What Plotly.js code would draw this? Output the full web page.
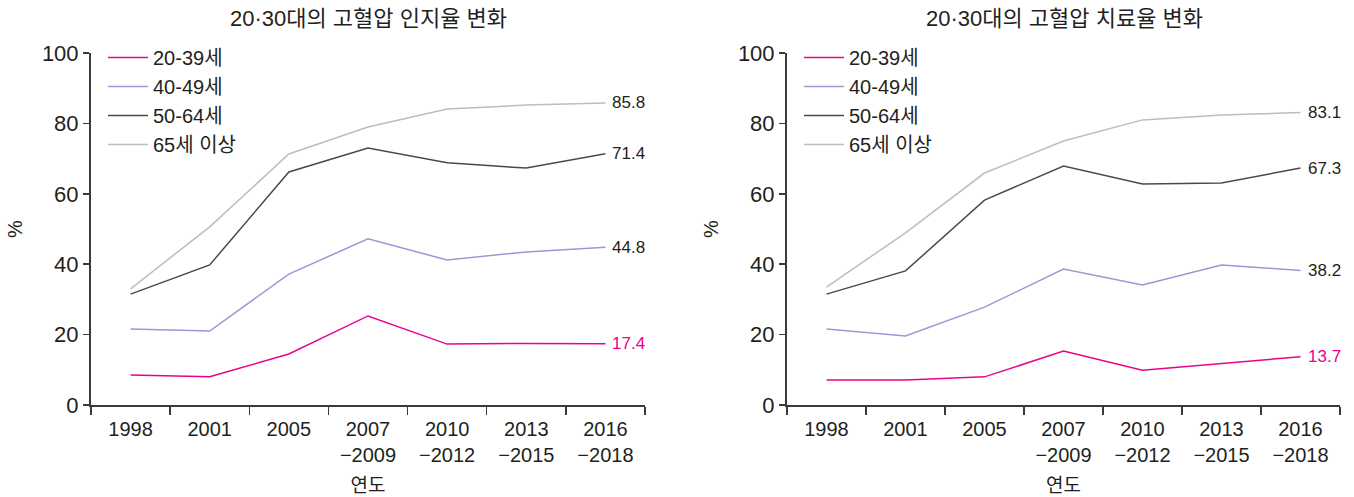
<!DOCTYPE html>
<html>
<head>
<meta charset="utf-8">
<script src="https://cdn.plot.ly/plotly-3.0.1.min.js"></script>
<style>
  body { margin: 0; background: #fff; }
  #chart { width: 1354px; height: 497px; }
</style>
</head>
<body>
<div id="chart"></div>
<script>
// categories (x axis)
const years = ["1998", "2001", "2005", "2007<br>\u22122009", "2010<br>\u22122012", "2013<br>\u22122015", "2016<br>\u22122018"];
const groups = ["20-39세", "40-49세", "50-64세", "65세 이상"];

// 인지율 (awareness), %
const aware2039 = [8.5, 8.0, 14.5, 25.3, 17.3, 17.5, 17.4];
const aware4049 = [21.6, 21.0, 37.2, 47.2, 41.2, 43.5, 44.8];
const aware5064 = [31.5, 39.8, 66.2, 73.0, 68.8, 67.3, 71.4];
const aware65 = [33.0, 50.6, 71.3, 79.0, 84.1, 85.2, 85.8];

// 치료율 (treatment), %
const treat2039 = [7.1, 7.1, 8.0, 15.3, 9.9, 11.9, 13.7];
const treat4049 = [21.6, 19.6, 27.8, 38.6, 34.1, 39.8, 38.2];
const treat5064 = [31.5, 38.1, 58.2, 67.9, 62.8, 63.1, 67.3];
const treat65 = [33.5, 48.9, 65.9, 75.0, 81.0, 82.4, 83.1];

const colors = ["#ec008c", "#9c97d6", "#4a4a4a", "#bdbdbd"];
const labelColors = ["#ec008c", "#231f20", "#231f20", "#231f20"];
const txt = "#231f20";
const font = "'Liberation Sans', Arial, 'Noto Sans CJK KR', sans-serif";
const krFont = "'Noto Sans CJK KR', sans-serif";

const awareSeries = [aware2039, aware4049, aware5064, aware65];
const treatSeries = [treat2039, treat4049, treat5064, treat65];

const traces = [];
const annotations = [];

function addPanel(series, xa, ya, legendId) {
    series.forEach((vals, i) => {
        traces.push({
            x: years, y: vals,
            xaxis: xa, yaxis: ya,
            type: "scatter", mode: "lines",
            name: groups[i],
            legend: legendId,
            line: { color: colors[i], width: 1.5 },
            hoverinfo: "x+y"
        });
        // value label at the end of each line
        const last = vals.length - 1;
        annotations.push({
            xref: xa, yref: ya,
            x: years[last], y: vals[last],
            text: vals[last].toFixed(1),
            showarrow: false,
            xanchor: "left", xshift: 5,
            font: { family: font, size: 17, color: labelColors[i] }
        });
    });
}

addPanel(awareSeries, "x", "y", "legend");
addPanel(treatSeries, "x2", "y2", "legend2");

function xAxis(domain, anchor) {
    return {
        domain: domain, anchor: anchor,
        type: "category", range: [-0.5, 6.5],
        showgrid: false, zeroline: false,
        showline: true, linecolor: "#3a3a3a", linewidth: 2,
        ticks: "outside", tickson: "boundaries", ticklen: 8, tickcolor: "#3a3a3a", tickwidth: 1.5,
        ticklabelstandoff: 5,
        tickfont: { family: font, size: 20, color: txt },
        title: { text: "연도", font: { family: krFont, size: 19, color: txt }, standoff: 14 },
        automargin: false, fixedrange: true
    };
}

function yAxis(domain, anchor) {
    return {
        domain: domain, anchor: anchor,
        range: [0, 100], tickvals: [0, 20, 40, 60, 80, 100],
        showgrid: false, zeroline: false,
        showline: true, linecolor: "#3a3a3a", linewidth: 2,
        ticks: "outside", ticklen: 6, tickcolor: "#3a3a3a", tickwidth: 1.5,
        tickfont: { family: font, size: 22, color: txt },
        title: { text: "%", font: { family: font, size: 20, color: txt }, standoff: 14 },
        automargin: false, fixedrange: true
    };
}

const yDom = [1 - 405 / 497, 1 - 53 / 497];

const legendStyle = (x) => ({
    x: x, y: 1 - 38 / 497, xanchor: "left", yanchor: "top",
    bgcolor: "rgba(0,0,0,0)",
    font: { family: font, size: 20, color: txt },
    itemwidth: 40, tracegroupgap: 0
});

const layout = {
    width: 1354, height: 497,
    margin: { l: 0, r: 0, t: 0, b: 0 },
    paper_bgcolor: "#fff", plot_bgcolor: "#fff",
    showlegend: true,
    xaxis: xAxis([91 / 1354, 645 / 1354], "y"),
    yaxis: yAxis(yDom, "x"),
    xaxis2: xAxis([787 / 1354, 1340 / 1354], "y2"),
    yaxis2: yAxis(yDom, "x2"),
    legend: legendStyle(103 / 1354),
    legend2: legendStyle(799 / 1354),
    annotations: annotations.concat([
        { xref: "paper", yref: "paper", x: 368 / 1354, y: 1 - 18 / 497, xanchor: "center", yanchor: "middle",
          text: "20·30대의 고혈압 인지율 변화",
          showarrow: false, font: { family: font, size: 22, color: txt } },
        { xref: "paper", yref: "paper", x: 1064 / 1354, y: 1 - 18 / 497, xanchor: "center", yanchor: "middle",
          text: "20·30대의 고혈압 치료율 변화",
          showarrow: false, font: { family: font, size: 22, color: txt } }
    ])
};

Plotly.newPlot("chart", traces, layout, { displayModeBar: false, staticPlot: true });
</script>
</body>
</html>
